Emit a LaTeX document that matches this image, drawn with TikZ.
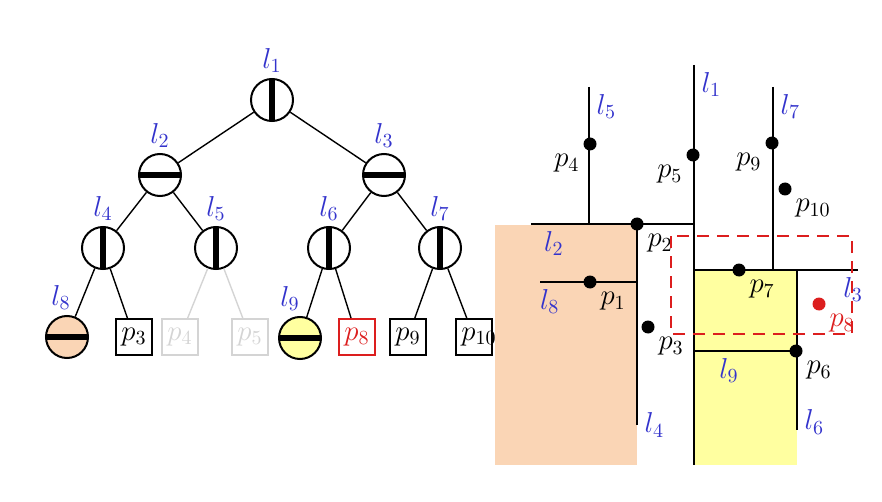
\documentclass[tikz,border=0pt]{standalone}
\usetikzlibrary{positioning}
\usepackage{amsmath}
\definecolor{lblue}{RGB}{51,51,204}
\definecolor{peach}{RGB}{250,213,181}
\definecolor{lyellow}{RGB}{255,255,160}
\definecolor{faded}{RGB}{212,212,212}
\definecolor{hired}{RGB}{220,30,30}

\tikzset{
  split/.style={circle,draw,line width=1pt,minimum size=21pt,inner sep=0pt},
  vsplit/.style={split,path picture={\draw[line width=3pt] (path picture bounding box.north) -- (path picture bounding box.south);}},
  hsplit/.style={split,path picture={\draw[line width=3pt] (path picture bounding box.west) -- (path picture bounding box.east);}},
  leaf/.style={draw,line width=1pt,minimum size=18pt,inner sep=0pt},
  lbl/.style={text=lblue},
  dot/.style={circle,fill,minimum size=6.5pt,inner sep=0pt},
  wall/.style={line width=1pt},
}

\begin{document}
\begin{tikzpicture}[x=0.5pt,y=-0.5pt,font=\Large,label distance=-1pt]
    \useasboundingbox (0,0) rectangle (882,502);

    % kd-tree
    \node[vsplit,label={[lbl]above:$l_1$}] (t1) at (272,100) {};
    \node[hsplit,label={[lbl]above:$l_2$}] (t2) at (160,175) {};
    \node[hsplit,label={[lbl]above:$l_3$}] (t3) at (384,175) {};
    \node[vsplit,label={[lbl]above:$l_4$}] (t4) at (103,248) {};
    \node[vsplit,label={[lbl]above:$l_5$}] (t5) at (216,248) {};
    \node[vsplit,label={[lbl]above:$l_6$}] (t6) at (329,248) {};
    \node[vsplit,label={[lbl]above:$l_7$}] (t7) at (440,248) {};
    \node[hsplit,fill=peach,label={[lbl,xshift=-3pt]above:$l_8$}] (t8) at (67,337) {};
    \node[hsplit,fill=lyellow,label={[lbl,xshift=-5pt]above:$l_9$}] (t9) at (300,338) {};
    \node[leaf] (b3) at (134,337) {$p_3$};
    \node[leaf,draw=faded,text=faded] (b4) at (180,337) {$p_4$};
    \node[leaf,draw=faded,text=faded] (b5) at (250,337) {$p_5$};
    \node[leaf,draw=hired,text=hired] (b8) at (357,337) {$p_8$};
    \node[leaf] (b9) at (408,337) {$p_9$};
    \node[leaf] (b10) at (474,337) {$p_{1\rlap{$\scriptstyle 0$}}$};

    \draw[line width=0.7pt]
      (t1) -- (t2)  (t1) -- (t3)
      (t2) -- (t4)  (t2) -- (t5)
      (t3) -- (t6)  (t3) -- (t7)
      (t4) -- (t8)  (t4) -- (b3)
      (t6) -- (t9)  (t6) -- (b8)
      (t7) -- (b9)  (t7) -- (b10);
    \draw[line width=0.7pt,faded] (t5) -- (b4) (t5) -- (b5);

    % plane subdivision
    \fill[peach] (495,225) rectangle (637,465);
    \fill[lyellow] (695,270) rectangle (797,465);

    \coordinate (l1a) at (694,65);   \coordinate (l1b) at (694,465);
    \coordinate (l2a) at (531,224);  \coordinate (l2b) at (694,224);
    \coordinate (l5a) at (589,87);   \coordinate (l5b) at (589,224);
    \coordinate (l4a) at (637,224);  \coordinate (l4b) at (637,425);
    \coordinate (l8a) at (540,282);  \coordinate (l8b) at (637,282);
    \coordinate (l3a) at (694,270);  \coordinate (l3b) at (858,270);
    \coordinate (l7a) at (773,87);   \coordinate (l7b) at (773,270);
    \coordinate (l6a) at (797,270);  \coordinate (l6b) at (797,430);
    \coordinate (l9a) at (694,351);  \coordinate (l9b) at (797,351);

    \draw[wall] (l1a) -- (l1b) node[lbl,pos=0,below right] {$l_1$};
    \draw[wall] (l2a) -- (l2b) node[lbl,pos=0.14,below] {$l_2$};
    \draw[wall] (l5a) -- (l5b) node[lbl,pos=0,below right] {$l_5$};
    \draw[wall] (l4a) -- (l4b) node[lbl,pos=1,right] {$l_4$};
    \draw[wall] (l8a) -- (l8b) node[lbl,pos=0.1,below] {$l_8$};
    \draw[wall] (l3a) -- (l3b) node[lbl,pos=0.97,below] {$l_3$};
    \draw[wall] (l7a) -- (l7b) node[lbl,pos=0,below right] {$l_7$};
    \draw[wall] (l6a) -- (l6b) node[lbl,pos=1,right,yshift=4pt] {$l_6$};
    \draw[wall] (l9a) -- (l9b) node[lbl,pos=0.34,below] {$l_9$};

    \node[dot,label={below left:$p_4$}] (d4) at (590,144) {};
    \node[dot,label={below left:$p_5$}] (d5) at (693,155) {};
    \node[dot,label={below left:$p_9$}] (d9) at (772,143) {};
    \node[dot,label={below right:$p_{10}$}] (d10) at (785,189) {};
    \node[dot,label={below right:$p_2$}] (d2) at (637,224) {};
    \node[dot,label={below right:$p_1$}] (d1) at (590,282) {};
    \node[dot,label={below right:$p_3$}] (d3) at (648,327) {};
    \node[dot,label={below right:$p_7$}] (d7) at (739,270) {};
    \node[dot,label={below right:$p_6$}] (d6) at (796,351) {};
    \node[dot,fill=hired,label={[text=hired]below right:$p_8$}] (d8) at (819,304) {};

    \draw[hired,line width=1pt,dash pattern=on 6pt off 4pt] (671,236) rectangle (852,334);
\end{tikzpicture}
\end{document}
